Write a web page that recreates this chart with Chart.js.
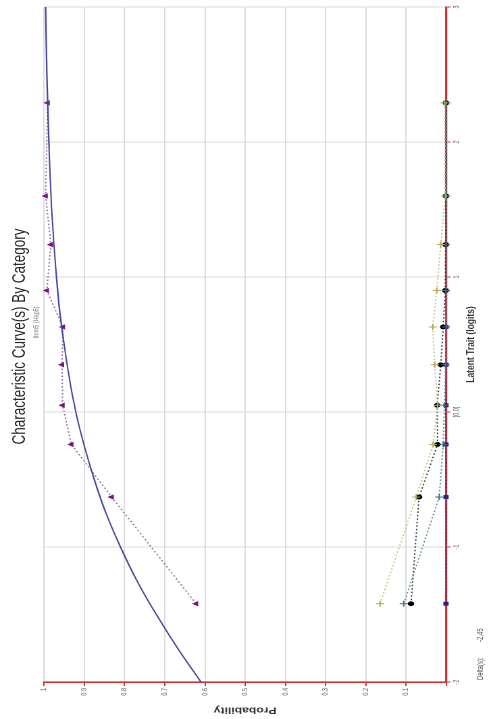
<!DOCTYPE html>
<html>
<head>
<meta charset="utf-8">
<title>Characteristic Curve(s) By Category</title>
<script src="https://cdn.jsdelivr.net/npm/chart.js@4.4.0/dist/chart.umd.min.js"></script>
<style>
  html, body { margin: 0; padding: 0; background: #fff; overflow: hidden; }
  body { width: 489px; height: 719px; position: relative; }
  /* the chart is drawn upright, then turned a quarter turn to the left and stretched like the picture */
  #icc { position: absolute; left: 0; top: 0; transform-origin: 0 0;
         transform: translate(0, 719px) rotate(-90deg) scaleY(1.3508); }
</style>
</head>
<body>
<canvas id="icc" width="719" height="362"></canvas>
<script>
// trait points where the observed proportions were plotted
const obsTrait = [-1.42, -0.63, -0.24, 0.05, 0.35, 0.63, 0.90, 1.24, 1.60, 2.29];
const obsTop    = [0.622, 0.832, 0.932, 0.954, 0.955, 0.953, 0.993, 0.983, 0.996, 0.991];
const obsYellow = [0.165, 0.075, 0.033, 0.022, 0.029, 0.034, 0.024, 0.014, 0.003, 0.004];
const obsTeal   = [0.106, 0.018, 0.008, 0.005, 0.002, 0.001, 0.001, 0.001, 0.000, 0.000];
const obsBlack  = [0.088, 0.068, 0.022, 0.023, 0.014, 0.008, 0.003, 0.002, 0.001, 0.001];
const obsNavy   = [0.001, 0.001, 0.001, 0.001, 0.001, 0.001, 0.001, 0.001, 0.001, 0.001];

// model curve
const modelTrait = [-2, -1.75, -1.5, -1.25, -1, -0.75, -0.5, -0.25, 0, 0.25, 0.5, 0.75, 1, 1.5, 2, 2.5, 3];
const modelProb  = [0.61, 0.668, 0.721, 0.769, 0.81, 0.846, 0.875, 0.90, 0.921, 0.937, 0.95, 0.961, 0.969, 0.981, 0.988, 0.993, 0.996];

const traitTicks = ['-2', '-1', '[0,0]', '1', '2', '3'];
const titleText = 'Characteristic Curve(s) By Category';
const subtitleText = 'Item5 (Hap5)';
const deltaLabel = 'Delta(s):';
const deltaValue = '-2.45';

const FONT = '"Liberation Sans", Arial, sans-serif';

const pts = (xs, ys) => xs.map((x, i) => ({ x: x, y: ys[i] }));

function observed(ys, line, mark, style, r) {
    return {
        data: pts(obsTrait, ys),
        borderColor: line,
        borderWidth: 1,
        borderDash: [1.5, 2],
        pointStyle: style,
        pointRadius: r,
        pointBorderColor: mark,
        pointBackgroundColor: mark,
        pointBorderWidth: 1,
        clip: 6
    };
}

const headings = {
    id: 'headings',
    afterDraw(chart) {
        const { ctx, chartArea: a } = chart;
        const cx = (a.left + a.right) / 2;
        ctx.save();
        ctx.fillStyle = '#262626';
        ctx.textAlign = 'center';
        ctx.textBaseline = 'middle';
        ctx.font = '13.5px ' + FONT;
        ctx.fillText(titleText, cx + 8, 15);
        ctx.fillStyle = '#777';
        ctx.font = '5.5px ' + FONT;
        ctx.fillText(subtitleText, cx + 22, 27);
        ctx.textAlign = 'left';
        ctx.fillStyle = '#555';
        ctx.font = '6px ' + FONT;
        ctx.fillText(deltaLabel, a.left + 2, 356);
        ctx.fillText(deltaValue, a.left + 40, 356);
        ctx.restore();
    }
};

new Chart(document.getElementById('icc'), {
    type: 'line',
    data: {
        datasets: [
            {
                data: pts(modelTrait, modelProb),
                borderColor: '#45459a',
                borderWidth: 1.1,
                pointRadius: 0,
                cubicInterpolationMode: 'monotone',
                order: 0
            },
            observed(obsTop, '#8d6a9c', '#7d0f80', 'triangle', 2.1),
            observed(obsYellow, '#c2c27a', '#b3a84a', 'cross', 3),
            observed(obsTeal, '#5c8a98', '#3f6f80', 'cross', 3),
            observed(obsBlack, '#3a3a3a', '#000000', 'circle', 1.9),
            observed(obsNavy, '#35358c', '#27277a', 'rect', 2.1)
        ]
    },
    plugins: [headings],
    options: {
        responsive: false,
        animation: false,
        devicePixelRatio: 2,
        layout: { padding: { top: 32.6, left: 0, right: 7, bottom: 0 } },
        plugins: { legend: { display: false }, tooltip: { enabled: false } },
        scales: {
            x: {
                type: 'linear', min: -2, max: 3,
                afterFit: s => { s.height = 31.5; },
                ticks: {
                    stepSize: 1, padding: 1, maxRotation: 0, color: '#555',
                    font: { family: FONT, size: 5.5 },
                    callback: v => traitTicks[Math.round(v) + 2]
                },
                grid: { color: '#dcdcdc', lineWidth: 1, tickColor: '#cc3333', tickLength: 3 },
                border: { color: '#cc3333', width: 1.6 },
                title: {
                    display: true, text: 'Latent Trait (logits)', color: '#333',
                    font: { family: FONT, size: 8.5, weight: 'bold' },
                    padding: { top: 0, bottom: 8 }
                }
            },
            y: {
                min: 0, max: 1,
                afterFit: s => { s.width = 37; },
                ticks: {
                    stepSize: 0.1, padding: 2, color: '#555',
                    font: { family: FONT, size: 5.5 },
                    callback: v => v < 0.05 ? '' : (v > 0.95 ? '1' : v.toFixed(1))
                },
                grid: { color: '#dcdcdc', lineWidth: 1, tickColor: '#cc3333', tickLength: 4 },
                border: { color: '#cc3333', width: 1.6 },
                title: {
                    display: true, text: 'Probability', color: '#333',
                    font: { family: FONT, size: 9, weight: 'bold' },
                    padding: { top: 3.6, bottom: 0 }
                }
            }
        }
    }
});
</script>
</body>
</html>
